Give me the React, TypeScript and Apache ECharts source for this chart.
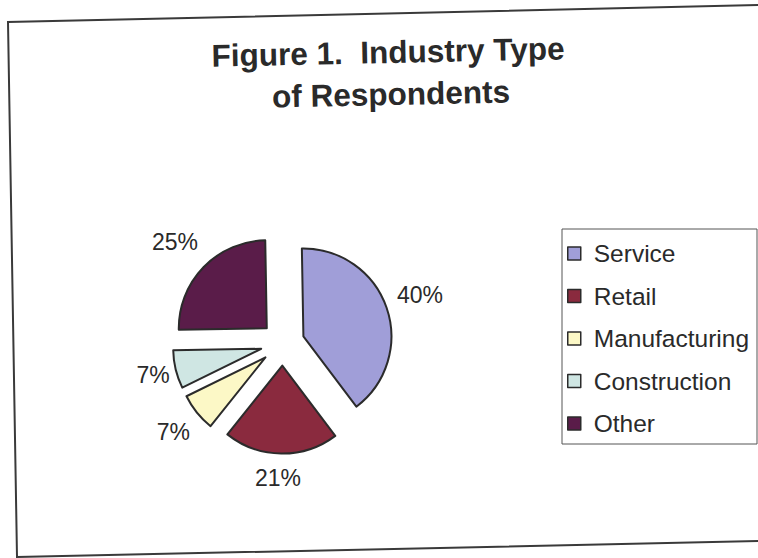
import React, { useEffect, useRef } from 'react';
import * as echarts from 'echarts';

const titleLines = ['Figure 1.  Industry Type', 'of Respondents'];
const categories = ['Service', 'Retail', 'Manufacturing', 'Construction', 'Other'];
const shares = [40, 21, 7, 7, 25];

const sliceColors = ['#a09ed8', '#8a2a3e', '#fcf8c6', '#cfe6e3', '#5a1c49'];
// per-slice label placement: [radial length beyond the arc, distance from that point]
const labelPlacement: [number, number][] = [
  [39.1, -3.6],
  [24.9, 2.7],
  [31.1, -0.8],
  [23.4, -0.1],
  [36.9, 1.9],
];

const FONT = '"Liberation Sans", Arial, Helvetica, sans-serif';

export default function App() {
  const ref = useRef<HTMLDivElement>(null);
  useEffect(() => {
    const chart = echarts.init(ref.current!, null, { renderer: 'svg' });
    chart.setOption({
      animation: false,
      backgroundColor: '#ffffff',
      graphic: [
        {
          type: 'polyline',
          shape: { points: [[762, 5], [8, 22], [17, 557], [762, 541]] },
          style: { stroke: '#3a3a3a', lineWidth: 2, fill: null },
          silent: true,
        },
        {
          type: 'text',
          x: 388,
          y: 52,
          rotation: 0.021,
          style: {
            text: titleLines[0],
            fontSize: 31.5,
            fontWeight: 'bold',
            fontFamily: FONT,
            fill: '#2a2a2a',
            align: 'center',
            verticalAlign: 'middle',
          },
        },
        {
          type: 'text',
          x: 391,
          y: 94,
          rotation: 0.021,
          style: {
            text: titleLines[1],
            fontSize: 31.5,
            fontWeight: 'bold',
            fontFamily: FONT,
            fill: '#2a2a2a',
            align: 'center',
            verticalAlign: 'middle',
          },
        },
      ],
      legend: {
        orient: 'vertical',
        left: 562,
        top: 229,
        selectedMode: false,
        data: categories,
        icon: 'rect',
        itemWidth: 13,
        itemHeight: 13,
        itemGap: 17.5,
        padding: [12, 8, 8, 5],
        borderColor: '#555',
        borderWidth: 1,
        backgroundColor: '#ffffff',
        itemStyle: { borderColor: '#2b2b2b', borderWidth: 1.5 },
        textStyle: {
          fontSize: 24.5,
          lineHeight: 24,
          fontFamily: FONT,
          color: '#2a2a2a',
          padding: [0, 0, 0, 8],
        },
      },
      series: [
        {
          type: 'pie',
          center: [282.6, 343.6],
          radius: 88,
          startAngle: 91,
          clockwise: true,
          selectedMode: 'multiple',
          selectedOffset: 22,
          avoidLabelOverlap: false,
          emphasis: { disabled: true },
          itemStyle: { borderColor: '#2b2b2b', borderWidth: 2 },
          label: {
            show: true,
            position: 'outside',
            formatter: '{c}%',
            fontSize: 23,
            fontFamily: FONT,
            color: '#2a2a2a',
          },
          labelLine: { show: false, length: 0, length2: 0 },
          labelLayout: () => ({ align: 'center', verticalAlign: 'middle' }),
          data: categories.map((name, i) => ({
            name,
            value: shares[i],
            selected: true,
            itemStyle: { color: sliceColors[i] },
            label: { distanceToLabelLine: labelPlacement[i][1] },
            labelLine: { show: false, length: labelPlacement[i][0], length2: 0 },
          })),
        },
      ],
    });
    return () => chart.dispose();
  }, []);
  return (
    <div
      ref={ref}
      style={{ position: 'absolute', left: 0, top: 0, width: 758, height: 558 }}
    />
  );
}
